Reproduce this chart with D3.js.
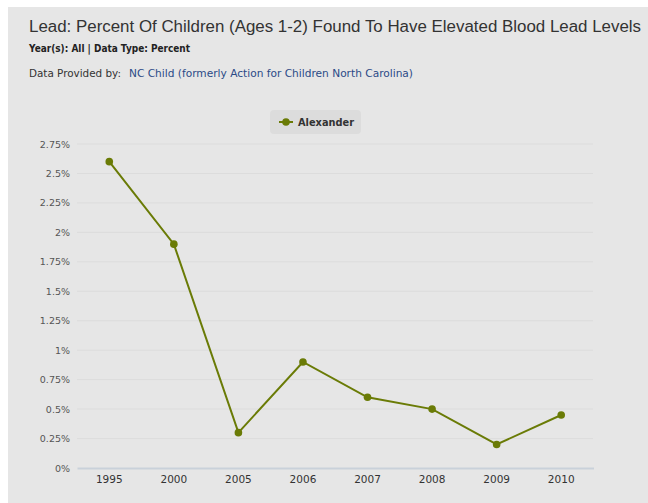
<!DOCTYPE html>
<html><head><meta charset="utf-8">
<script src="https://cdn.jsdelivr.net/npm/d3@7"></script>
<style>
html,body{margin:0;padding:0;background:#fff;}
svg{display:block;font-family:"DejaVu Sans",sans-serif;}
</style></head>
<body>
<svg id="chart" width="648" height="503"></svg>
<script>
const years = ["1995","2000","2005","2006","2007","2008","2009","2010"];
const values = [2.6, 1.9, 0.3, 0.9, 0.6, 0.5, 0.2, 0.45];
const yTicks = [0,0.25,0.5,0.75,1,1.25,1.5,1.75,2,2.25,2.5,2.75];
const seriesName = "Alexander";
const titleText = "Lead: Percent Of Children (Ages 1-2) Found To Have Elevated Blood Lead Levels";
const subText = "Year(s): All | Data Type: Percent";
const providerLabel = "Data Provided by:";
const providerName = "NC Child (formerly Action for Children North Carolina)";

const svg = d3.select("#chart");
const col = "#6a7b06";

svg.append("rect").attr("x",8).attr("y",7).attr("width",640).attr("height",496).attr("fill","#e6e6e6");

svg.append("text").attr("x",29).attr("y",32).attr("font-size",16).attr("fill","#333")
  .attr("font-family","Liberation Sans, Arial, sans-serif")
  .attr("textLength",612).attr("lengthAdjust","spacingAndGlyphs").text(titleText);
svg.append("text").attr("x",29).attr("y",52).attr("font-size",10.5).attr("font-weight","bold").attr("fill","#222")
  .attr("textLength",161).attr("lengthAdjust","spacingAndGlyphs").text(subText);
const pt = svg.append("text").attr("x",29).attr("y",77).attr("font-size",10.5).attr("fill","#333");
pt.append("tspan").attr("textLength",92).attr("lengthAdjust","spacingAndGlyphs").text(providerLabel);
pt.append("tspan").attr("x",129).attr("fill","#2b4a86").attr("textLength",284).attr("lengthAdjust","spacingAndGlyphs").text(providerName);

const x = d3.scaleBand().domain(years).range([77,593.5]);
const y = d3.scaleLinear().domain([0,2.75]).range([468,144]);

const grid = svg.append("g");
grid.selectAll("line").data(yTicks.filter(d=>d>0)).join("line")
  .attr("x1",77).attr("x2",593).attr("y1",d=>y(d)).attr("y2",d=>y(d))
  .attr("stroke","#dcdcdc").attr("stroke-width",1);

const yAxis = svg.append("g").attr("transform","translate(77,0)")
  .call(d3.axisLeft(y).tickValues(yTicks).tickSize(0).tickPadding(7).tickFormat(d=>d3.format("~g")(d)+"%"));
yAxis.select(".domain").remove();
yAxis.selectAll("text").attr("font-size",9.5).attr("fill","#555").attr("font-family","DejaVu Sans, sans-serif");

const xAxis = svg.append("g").attr("transform","translate(0,468)")
  .call(d3.axisBottom(x).tickSize(0).tickPadding(8));
xAxis.select(".domain").attr("stroke","#c9d1da").attr("stroke-width",2);
xAxis.selectAll("text").attr("font-size",10.5).attr("fill","#333").attr("font-family","DejaVu Sans, sans-serif");

const pts = years.map((yr,i)=>({yr,v:values[i]}));
const line = d3.line().x(d=>x(d.yr)+x.bandwidth()/2).y(d=>y(d.v));
svg.append("path").datum(pts).attr("d",line).attr("fill","none").attr("stroke",col).attr("stroke-width",2);
svg.selectAll("circle.pt").data(pts).join("circle").attr("class","pt")
  .attr("cx",d=>x(d.yr)+x.bandwidth()/2).attr("cy",d=>y(d.v)).attr("r",3.8).attr("fill",col);

const lg = svg.append("g");
lg.append("rect").attr("x",270).attr("y",110).attr("width",91).attr("height",24).attr("rx",4).attr("fill","#dcdcdc");
lg.append("line").attr("x1",279).attr("x2",293).attr("y1",122).attr("y2",122).attr("stroke",col).attr("stroke-width",2);
lg.append("circle").attr("cx",286).attr("cy",122).attr("r",3.8).attr("fill",col);
lg.append("text").attr("x",298).attr("y",126).attr("font-size",10.5).attr("font-weight","bold").attr("fill","#333")
  .attr("textLength",56).attr("lengthAdjust","spacingAndGlyphs").text(seriesName);
</script>
</body></html>
